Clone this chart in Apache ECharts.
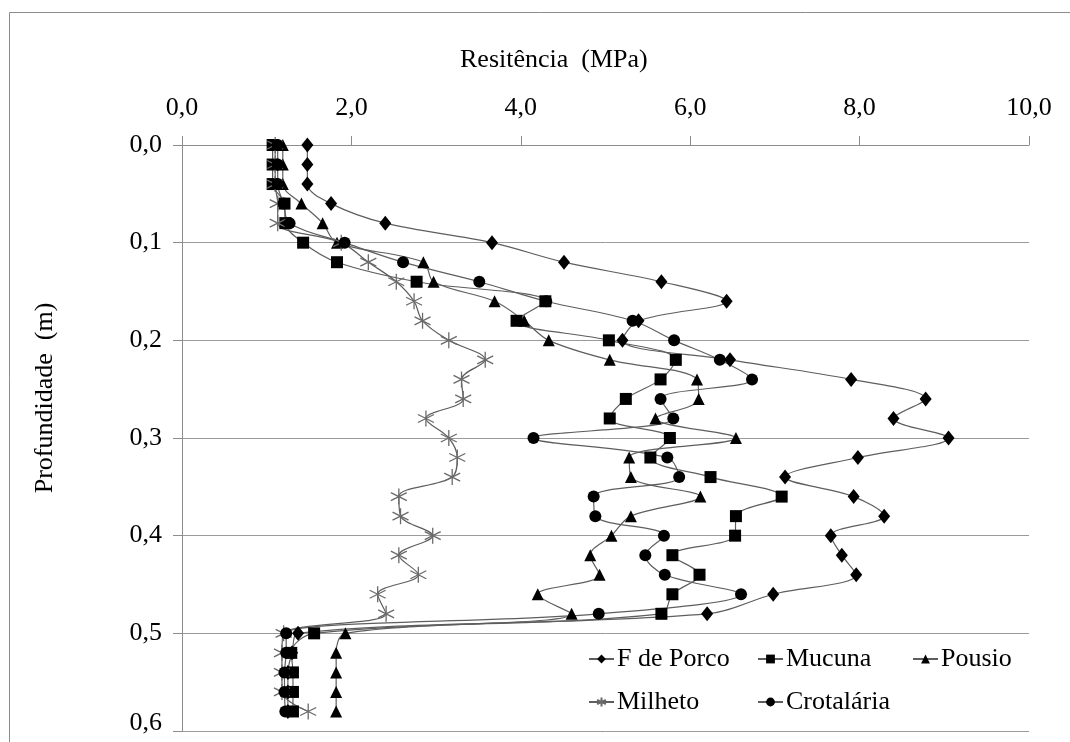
<!DOCTYPE html>
<html>
<head>
<meta charset="utf-8">
<script src="https://cdn.jsdelivr.net/npm/echarts@6/dist/echarts.min.js"></script>
<style>
html,body{margin:0;padding:0;background:#fff;}
#chart{width:1070px;height:742px;}
</style>
</head>
<body>
<div id="chart"></div>
<script>
// profundidade (m)
var depth = [0, 0.02, 0.04, 0.06, 0.08, 0.10, 0.12, 0.14, 0.16, 0.18,
             0.20, 0.22, 0.24, 0.26, 0.28, 0.30, 0.32, 0.34, 0.36, 0.38,
             0.40, 0.42, 0.44, 0.46, 0.48, 0.50, 0.52, 0.54, 0.56, 0.58];
// resistencia (MPa) por tratamento
var fPorco = [1.48, 1.48, 1.48, 1.76, 2.40, 3.66, 4.51, 5.66, 6.43, 5.39,
              5.20, 6.47, 7.90, 8.78, 8.40, 9.05, 7.98, 7.12, 7.93, 8.29,
              7.66, 7.79, 7.96, 6.98, 6.20, 1.37, 1.30, 1.25, 1.25, 1.25];
var mucuna = [1.07, 1.07, 1.07, 1.21, 1.22, 1.43, 1.83, 2.77, 4.29, 3.95,
              5.04, 5.83, 5.65, 5.24, 5.05, 5.76, 5.53, 6.24, 7.08, 6.54,
              6.53, 5.79, 6.11, 5.79, 5.66, 1.56, 1.29, 1.31, 1.31, 1.31];
var pousio = [1.19, 1.19, 1.19, 1.41, 1.66, 1.83, 2.85, 2.97, 3.69, 4.04,
              4.33, 5.05, 6.08, 6.10, 5.59, 6.54, 5.28, 5.30, 6.12, 5.30,
              5.07, 4.82, 4.93, 4.20, 4.60, 1.93, 1.82, 1.82, 1.82, 1.82];
var milheto = [1.10, 1.10, 1.10, 1.13, 1.13, 1.88, 2.20, 2.53, 2.74, 2.84,
               3.15, 3.58, 3.30, 3.32, 2.88, 3.15, 3.25, 3.19, 2.56, 2.58,
               2.96, 2.56, 2.79, 2.31, 2.41, 1.20, 1.18, 1.18, 1.18, 1.49];
var crotalaria = [1.13, 1.13, 1.13, 1.20, 1.27, 1.92, 2.61, 3.51, 4.30, 5.32,
                  5.81, 6.35, 6.73, 5.65, 5.80, 4.15, 5.73, 5.87, 4.86, 4.88,
                  5.69, 5.47, 5.70, 6.60, 4.92, 1.23, 1.23, 1.21, 1.21, 1.22];

var xTicks = [0, 2, 4, 6, 8, 10];

var font = 'Liberation Serif, Times New Roman, serif';
var star = 'path://M0,-10L0,10M-8.66,-5L8.66,5M-8.66,5L8.66,-5';

function pairs(vals){
	var out = [];
	for (var i = 0; i < vals.length; i++) out.push([vals[i], depth[i]]);
	return out;
}
function comma(v, d){
	return v.toFixed(d).replace('.', ',');
}
function mkSeries(name, vals, symbol, size, col){
	return {
		name: name,
		type: 'line',
		data: pairs(vals),
		smooth: 0.35,
		symbol: symbol,
		symbolSize: size,
		lineStyle: {color: '#5e5e5e', width: 1.2},
		itemStyle: {color: col, borderColor: col, borderWidth: symbol == star ? 1.3 : 0},
		z: 3
	};
}
function mkLegend(name, left, top){
	return {
		data: [name],
		left: left,
		top: top,
		padding: 0,
		itemWidth: 25,
		itemHeight: 11,
		selectedMode: false,
		textStyle: {fontFamily: font, fontSize: 26, color: '#000', padding: [0, 0, 0, -2]}
	};
}

var chart = echarts.init(document.getElementById('chart'));
var option = {
	animation: false,
	backgroundColor: '#fff',
	title: {
		text: 'Resitência  (MPa)',
		left: 455,
		top: 42,
		textStyle: {fontFamily: font, fontSize: 26, fontWeight: 'normal', color: '#000'}
	},
	grid: {left: 182, top: 145, right: 41, bottom: 11, containLabel: false},
	legend: [
		mkLegend('F de Porco', 588, 646),
		mkLegend('Mucuna', 757, 646),
		mkLegend('Pousio', 912, 646),
		mkLegend('Milheto', 588, 689),
		mkLegend('Crotalária', 757, 689)
	],
	xAxis: {
		type: 'value',
		position: 'top',
		min: 0,
		max: 10,
		interval: 2,
		axisLine: {show: true, lineStyle: {color: '#8c8c8c'}},
		axisTick: {show: true, length: 9, lineStyle: {color: '#8c8c8c'}},
		splitLine: {show: false},
		axisLabel: {
			margin: 24,
			fontFamily: font,
			fontSize: 26,
			color: '#000',
			formatter: function(v){ return xTicks.indexOf(v) >= 0 ? comma(v, 1) : ''; }
		}
	},
	yAxis: {
		type: 'value',
		inverse: true,
		min: 0,
		max: 0.6,
		interval: 0.1,
		axisLine: {show: true, lineStyle: {color: '#8c8c8c'}},
		axisTick: {show: true, length: 9, lineStyle: {color: '#8c8c8c'}},
		splitLine: {show: true, lineStyle: {color: '#9a9a9a', width: 1}},
		axisLabel: {
			margin: 20,
			fontFamily: font,
			fontSize: 26,
			color: '#000',
			formatter: function(v){
				var s = comma(v, 1);
				return v > 0.55 ? '{up|' + s + '}' : s;
			},
			rich: {up: {fontFamily: font, fontSize: 26, color: '#000', padding: [0, 0, 16, 0]}}
		}
	},
	graphic: [{
		type: 'rect',
		shape: {x: 9.5, y: 12.5, width: 1200, height: 900},
		style: {fill: 'none', stroke: '#8c8c8c', lineWidth: 1},
		silent: true,
		z: -10
	}, {
		type: 'text',
		x: 45,
		y: 398,
		rotation: Math.PI / 2,
		style: {
			text: 'Profundidade  (m)',
			fontFamily: font,
			fontSize: 26,
			fill: '#000',
			align: 'center',
			verticalAlign: 'middle'
		}
	}],
	series: [
		mkSeries('F de Porco', fPorco, 'diamond', [12, 15], '#000'),
		mkSeries('Mucuna', mucuna, 'rect', 12, '#000'),
		mkSeries('Pousio', pousio, 'triangle', 12, '#000'),
		mkSeries('Milheto', milheto, star, 16, '#6a6a6a'),
		mkSeries('Crotalária', crotalaria, 'circle', 12, '#000')
	]
};
chart.setOption(option);
</script>
</body>
</html>
